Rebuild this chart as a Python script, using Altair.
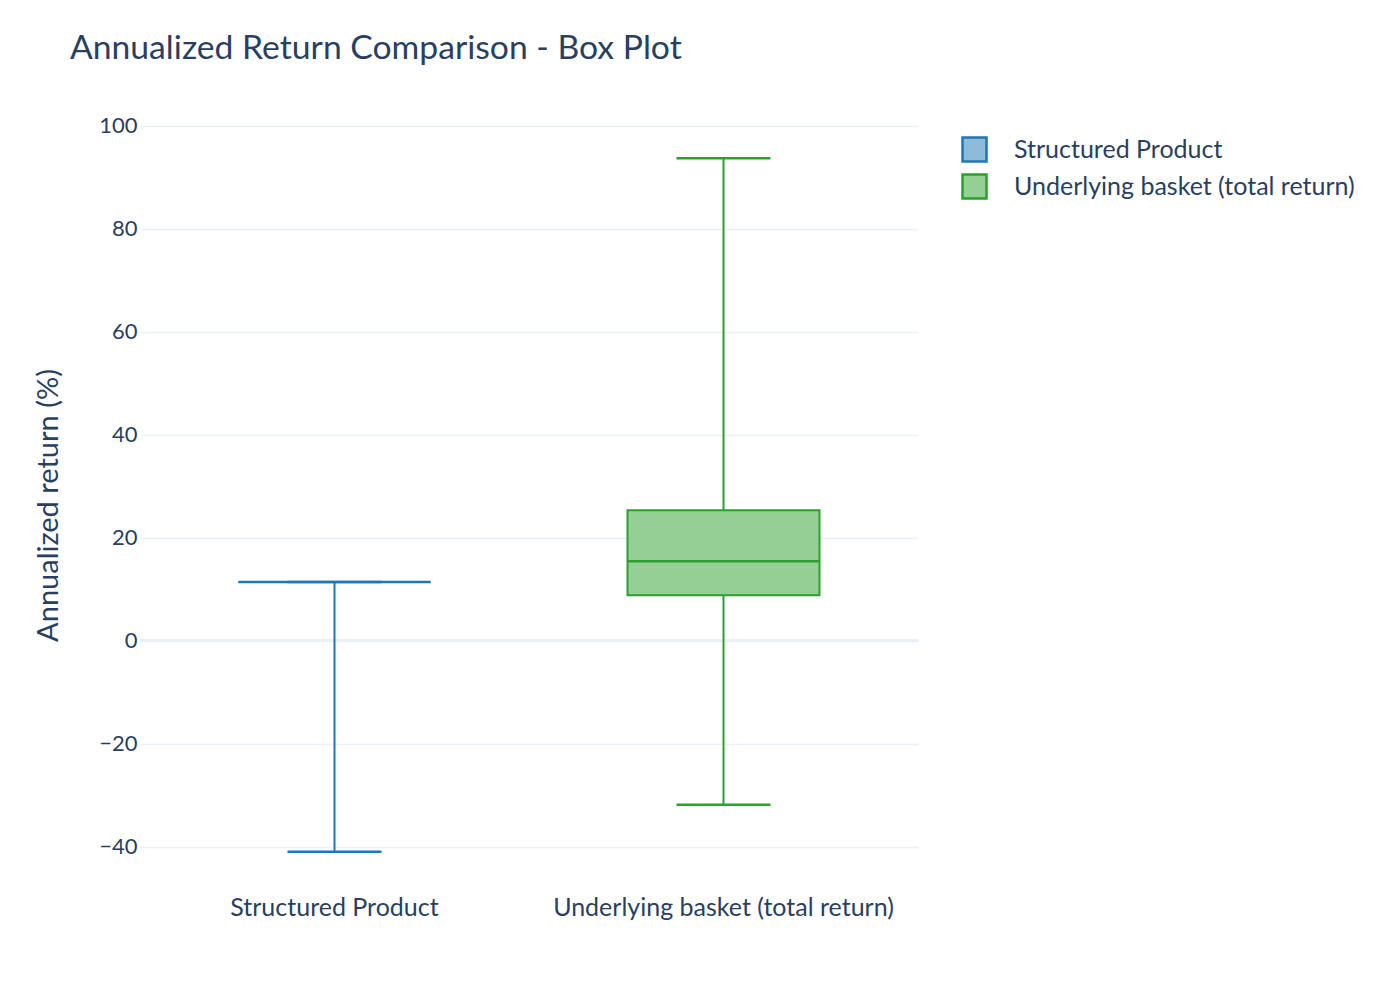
import pandas as pd
import altair as alt

# Box statistics (annualized return, %)
groups = ["Structured Product", "Underlying basket (total return)"]
lower_fence = [-41.0, -31.9]
q1 = [11.4, 8.8]
median = [11.4, 15.4]
q3 = [11.4, 25.3]
upper_fence = [11.4, 93.7]

line_colors = ["#1f77b4", "#2ca02c"]
box_fills = ["#8fbbd9", "#96cf96"]  # line colours at 50% over white
FONT = "Lato"
TEXT = "#2a3f5f"
GRID = "#ebf0f8"

df = pd.DataFrame(
    {
        "group": groups,
        "lo": lower_fence,
        "q1": q1,
        "med": median,
        "q3": q3,
        "hi": upper_fence,
    }
)

x = alt.X(
    "group:N",
    title=None,
    sort=groups,
    scale=alt.Scale(paddingInner=0, paddingOuter=0),
    axis=alt.Axis(labelAngle=0, labelFontSize=25, labelPadding=15, labelLimit=0, ticks=False, domain=False, grid=False),
)
y_scale = alt.Scale(domain=[-46.5, 105], nice=False, zero=False)
legend = alt.Legend(title=None, symbolType="square", labelLimit=0)
fill = alt.Fill("group:N", scale=alt.Scale(domain=groups, range=box_fills), sort=groups, legend=legend)
stroke = alt.Stroke("group:N", scale=alt.Scale(domain=groups, range=line_colors), sort=groups, legend=legend)

base = alt.Chart(df).encode(x=x)

box = base.mark_bar(size=192, strokeWidth=2).encode(
    y=alt.Y(
        "q1:Q",
        scale=y_scale,
        title="Annualized return (%)",
        axis=alt.Axis(
            values=[-40, -20, 0, 20, 40, 60, 80, 100],
            labelExpr="replace(datum.label, '-', '\u2212')",
            labelFontSize=22,
            labelPadding=3,
            titleFontSize=29,
            titleFontWeight="normal",
            titlePadding=35,
            titleY=405,
            ticks=False,
            domain=False,
            gridColor=GRID,
            gridWidth=1.5,
        ),
    ),
    y2="q3:Q",
    fill=fill,
    stroke=stroke,
)

zero_line = alt.Chart(pd.DataFrame({"v": [0]})).mark_rule(color=GRID, strokeWidth=3).encode(y=alt.Y("v:Q", scale=y_scale))

whisker_low = base.mark_rule(strokeWidth=2).encode(y=alt.Y("lo:Q", scale=y_scale), y2="q1:Q", stroke=stroke)
whisker_high = base.mark_rule(strokeWidth=2).encode(y=alt.Y("q3:Q", scale=y_scale), y2="hi:Q", stroke=stroke)


def hline(field, half):
    # horizontal segment centred on the category band
    return base.mark_rule(strokeWidth=2.5, xOffset=-half, x2Offset=half).encode(
        x2=alt.X2("group:N"),
        y=alt.Y(f"{field}:Q", scale=y_scale),
        stroke=stroke,
    )


mid = hline("med", 96)
cap_low = hline("lo", 47)
cap_high = hline("hi", 47)

chart = (
    alt.layer(zero_line, box, whisker_low, whisker_high, mid, cap_low, cap_high)
    .properties(
        width=778,
        height=780,
        autosize=alt.AutoSizeParams(type="none"),
        padding={"left": 132, "top": 92, "right": 474, "bottom": 120},
        title=alt.Title(
            "Annualized Return Comparison - Box Plot",
            anchor="start",
            frame="group",
            dx=-70,
            dy=-30,
            fontSize=33.7,
            fontWeight="normal",
            color=TEXT,
            font=FONT,
        ),
    )
    .configure_view(stroke=None)
    .configure_axis(labelFont=FONT, titleFont=FONT, labelColor=TEXT, titleColor=TEXT)
    .configure_legend(
        orient="none",
        legendX=821,
        legendY=36,
        symbolSize=576,
        symbolStrokeWidth=2.5,
        labelFont=FONT,
        labelFontSize=25,
        labelColor=TEXT,
        labelOffset=26,
        rowPadding=2,
    )
)

chart.save("out.html", embed_options={"renderer": "svg", "actions": False})
